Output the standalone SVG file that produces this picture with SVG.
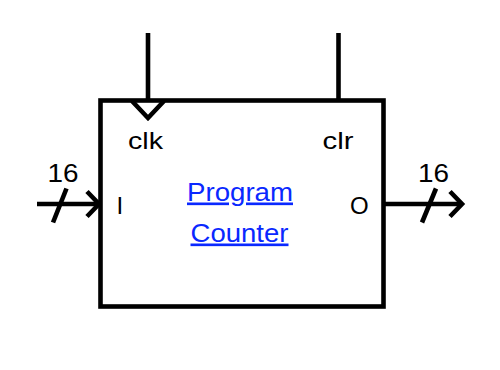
<svg xmlns="http://www.w3.org/2000/svg" width="500" height="370" viewBox="0 0 500 370">
  <style>
    .wire { stroke: #000; stroke-width: 4.6; fill: none; }
    .lbl { font-family: "Liberation Sans", Arial, sans-serif; font-size: 24px; fill: #000; }
    .bus { font-family: "Liberation Sans", Arial, sans-serif; font-size: 26px; fill: #000; }
    .title { font-family: "Liberation Sans", Arial, sans-serif; font-size: 26.5px; fill: #0a28ff; text-decoration: underline; text-anchor: middle; }
  </style>
  <rect width="500" height="370" fill="#fff"/>

  <g id="connectors">
    <!-- clock input -->
    <line class="wire" x1="148" y1="33" x2="148" y2="100"/>
    <!-- clear input -->
    <line class="wire" x1="338.5" y1="33" x2="338.5" y2="100"/>
    <!-- 16-bit data in -->
    <line class="wire" x1="37" y1="204" x2="100" y2="204"/>
    <polyline class="wire" points="87,191.5 99,204 87,216.5"/>
    <line class="wire" x1="66.5" y1="188.5" x2="53" y2="222.5"/>
    <!-- 16-bit data out -->
    <line class="wire" x1="383" y1="204" x2="462" y2="204"/>
    <polyline class="wire" points="450,191.5 462,204 450,216.5"/>
    <line class="wire" x1="436" y1="188.5" x2="422" y2="222.5"/>
  </g>

  <g id="program-counter">
    <rect class="wire" x="100.5" y="100.5" width="283" height="206"/>
    <!-- clock edge marker -->
    <polyline class="wire" points="132,101 148,118 164,101"/>
    <text class="lbl" x="128" y="148.5" textLength="35" lengthAdjust="spacingAndGlyphs">clk</text>
    <text class="lbl" x="322.5" y="148.5" textLength="31" lengthAdjust="spacingAndGlyphs">clr</text>
    <text class="lbl" x="116.5" y="213.5">I</text>
    <text class="lbl" x="350" y="213.5">O</text>
    <text class="title" x="240" y="200.5" textLength="106" lengthAdjust="spacingAndGlyphs">Program</text>
    <text class="title" x="239.5" y="241.5" textLength="98" lengthAdjust="spacingAndGlyphs">Counter</text>
  </g>

  <g id="bus-widths">
    <text class="bus" x="47.5" y="181.5" textLength="31" lengthAdjust="spacingAndGlyphs">16</text>
    <text class="bus" x="418" y="181.5" textLength="31" lengthAdjust="spacingAndGlyphs">16</text>
  </g>
</svg>
